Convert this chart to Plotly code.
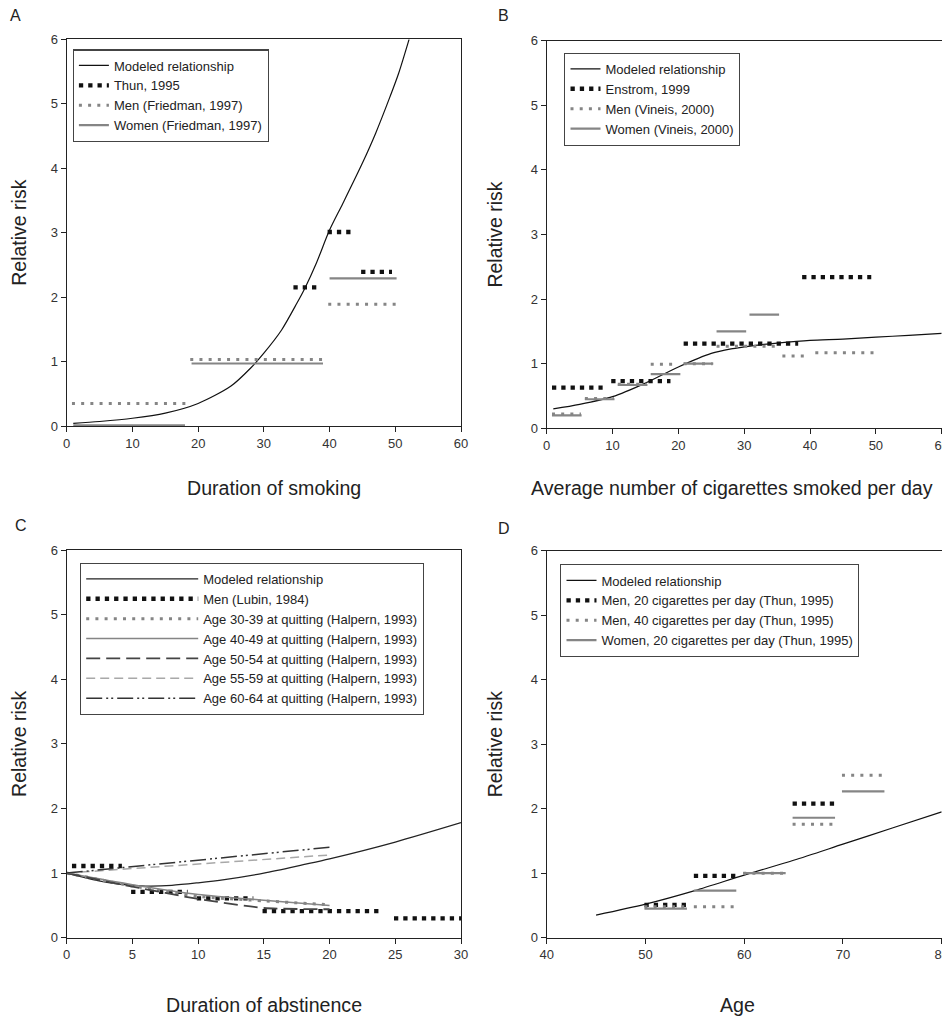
import plotly.graph_objects as go

# ---------------- Panel A: duration of smoking ----------------
a_model_x = [1, 5, 10, 15, 20, 25, 28, 30, 32.7, 35, 36.3, 38, 40, 42, 45, 47, 49.2, 50.5, 52.1]
a_model_y = [0.04, 0.07, 0.12, 0.2, 0.35, 0.62, 0.9, 1.13, 1.49, 1.9, 2.15, 2.53, 3.04, 3.45, 4.08, 4.54, 5.11, 5.47, 6.0]
a_thun_start = [34.5, 39.7, 44.8]
a_thun_end = [38.2, 43.2, 49.5]
a_thun_rr = [2.15, 3.01, 2.39]
a_men_start = [0.8, 18.8, 39.8]
a_men_end = [18.2, 39.2, 50.2]
a_men_rr = [0.35, 1.03, 1.89]
a_women_start = [1, 19, 40]
a_women_end = [18, 39, 50.2]
a_women_rr = [0.01, 0.97, 2.29]

# ---------------- Panel B: cigarettes per day ----------------
b_model_x = [1, 5, 10, 15, 20, 25, 28, 30, 33, 35, 40, 45, 50, 55, 60]
b_model_y = [0.3, 0.37, 0.49, 0.7, 0.95, 1.16, 1.23, 1.26, 1.3, 1.32, 1.36, 1.38, 1.41, 1.44, 1.47]
b_enst_start = [0.8, 9.8, 20.8, 38.8]
b_enst_end = [8.5, 18.8, 38.2, 49.3]
b_enst_rr = [0.63, 0.73, 1.31, 2.34]
b_men_start = [0.8, 5.8, 10.8, 15.8, 20.8, 25.8, 35.8, 40.8]
b_men_end = [5.2, 10.2, 15.2, 19.2, 25.2, 35.2, 39.2, 50.2]
b_men_rr = [0.22, 0.46, 0.68, 0.99, 1.0, 1.27, 1.12, 1.17]
b_women_start = [0.8, 5.8, 10.8, 15.8, 20.8, 25.8, 30.8]
b_women_end = [5.3, 10.3, 15.3, 20.3, 25.3, 30.3, 35.3]
b_women_rr = [0.2, 0.45, 0.67, 0.84, 1.0, 1.5, 1.76]

# ---------------- Panel C: duration of abstinence ----------------
c_model_x = [0, 2, 4, 6, 8, 10, 12, 15, 18, 20, 25, 30]
c_model_y = [1.0, 0.9, 0.83, 0.8, 0.81, 0.85, 0.9, 1.0, 1.13, 1.22, 1.48, 1.78]
c_lubin_start = [0.4, 4.9, 9.9, 14.9, 24.9]
c_lubin_end = [4.2, 9.2, 14.2, 24.0, 30.0]
c_lubin_rr = [1.11, 0.71, 0.61, 0.41, 0.3]
c_halp_x = [0, 5, 10, 15, 20]
c_age3039 = [1.0, 0.8, 0.64, 0.57, 0.51]
c_age4049 = [1.0, 0.82, 0.67, 0.58, 0.5]
c_age5054 = [1.0, 0.79, 0.6, 0.46, 0.44]
c_age5559 = [1.0, 1.07, 1.14, 1.21, 1.28]
c_age6064 = [1.0, 1.1, 1.2, 1.3, 1.4]

# ---------------- Panel D: age ----------------
d_model_x = [45, 50, 55, 60, 65, 70, 75, 80]
d_model_y = [0.35, 0.52, 0.73, 0.97, 1.2, 1.45, 1.7, 1.95]
d_start = [49.9, 54.9, 59.9, 64.9, 69.9]
d_end = [54.2, 59.2, 64.2, 69.2, 74.2]
d_men20_rr = [0.51, 0.96, None, 2.08, None]
d_men40_rr = [0.48, 0.48, 1.0, 1.76, 2.52]
d_women20_rr = [0.45, 0.73, 1.0, 1.86, 2.27]


def steps(starts, ends, vals):
    xs, ys = [], []
    for s, e, v in zip(starts, ends, vals):
        if v is None:
            continue
        xs += [s, e, None]
        ys += [v, v, None]
    return xs, ys


FONT = "Arial, 'Liberation Sans', sans-serif"
BLACK = "#111111"
GRAY = "#858585"
LIGHT = "#a8a8a8"
BLACKDOT = dict(color=BLACK, width=4.3, dash="4.3px,5px")
GRAYDOT = dict(color=GRAY, width=3, dash="3px,6.2px")
WOMEN = dict(color=GRAY, width=2.2)
MODEL = dict(color=BLACK, width=1.2, shape="spline", smoothing=0.8)

fig = go.Figure()


def add(xs, ys, name, line, xa, ya, legend):
    fig.add_trace(go.Scatter(x=xs, y=ys, mode="lines", name=name, line=line,
                             connectgaps=False, xaxis=xa, yaxis=ya, legend=legend))


# A
add(a_model_x, a_model_y, "Modeled relationship", MODEL, "x", "y", "legend")
add(*steps(a_thun_start, a_thun_end, a_thun_rr), "Thun, 1995", BLACKDOT, "x", "y", "legend")
add(*steps(a_men_start, a_men_end, a_men_rr), "Men (Friedman, 1997)", GRAYDOT, "x", "y", "legend")
add(*steps(a_women_start, a_women_end, a_women_rr), "Women (Friedman, 1997)", WOMEN, "x", "y", "legend")

# B
add(b_model_x, b_model_y, "Modeled relationship", MODEL, "x2", "y2", "legend2")
add(*steps(b_enst_start, b_enst_end, b_enst_rr), "Enstrom, 1999", BLACKDOT, "x2", "y2", "legend2")
add(*steps(b_men_start, b_men_end, b_men_rr), "Men (Vineis, 2000)", GRAYDOT, "x2", "y2", "legend2")
add(*steps(b_women_start, b_women_end, b_women_rr), "Women (Vineis, 2000)", WOMEN, "x2", "y2", "legend2")

# C
add(c_model_x, c_model_y, "Modeled relationship",
    dict(color="#222222", width=1.2, shape="spline", smoothing=0.8), "x3", "y3", "legend3")
add(*steps(c_lubin_start, c_lubin_end, c_lubin_rr), "Men (Lubin, 1984)", BLACKDOT, "x3", "y3", "legend3")
add(c_halp_x, c_age3039, "Age 30-39 at quitting (Halpern, 1993)",
    dict(GRAYDOT, shape="spline", smoothing=0.6), "x3", "y3", "legend3")
add(c_halp_x, c_age4049, "Age 40-49 at quitting (Halpern, 1993)",
    dict(color=GRAY, width=1.5, shape="spline", smoothing=0.6), "x3", "y3", "legend3")
add(c_halp_x, c_age5054, "Age 50-54 at quitting (Halpern, 1993)",
    dict(color="#444444", width=1.8, dash="14px,6px", shape="spline", smoothing=0.6), "x3", "y3", "legend3")
add(c_halp_x, c_age5559, "Age 55-59 at quitting (Halpern, 1993)",
    dict(color=LIGHT, width=1.5, dash="9px,5px"), "x3", "y3", "legend3")
add(c_halp_x, c_age6064, "Age 60-64 at quitting (Halpern, 1993)",
    dict(color="#333333", width=1.5, dash="16px,4px,2px,3px,2px,4px"), "x3", "y3", "legend3")

# D
add(d_model_x, d_model_y, "Modeled relationship", MODEL, "x4", "y4", "legend4")
add(*steps(d_start, d_end, d_men20_rr), "Men, 20 cigarettes per day (Thun, 1995)", BLACKDOT, "x4", "y4", "legend4")
add(*steps(d_start, d_end, d_men40_rr), "Men, 40 cigarettes per day (Thun, 1995)", GRAYDOT, "x4", "y4", "legend4")
add(*steps(d_start, d_end, d_women20_rr), "Women, 20 cigarettes per day (Thun, 1995)", WOMEN, "x4", "y4", "legend4")

# The page body has an 8px margin: figure is sized so it fits the 950x1017 window.
OFF = 8
W, H = 950 - OFF, 1017 - OFF


def px(x):
    return (x - OFF) / W


def py(y):
    return 1 - (y - OFF) / H


dom = {
    "A": ([px(66.7), px(461)], [py(426), py(39.3)]),
    "B": ([px(546.7), px(941.7)], [py(428.3), py(40.7)]),
    "C": ([px(66.7), px(461)], [py(937.7), py(550)]),
    "D": ([px(546.7), px(941.7)], [py(937.7), py(550.7)]),
}

axis_common = dict(showline=True, linecolor="#222222", linewidth=1.2, mirror=True,
                   ticks="outside", ticklen=5, tickcolor="#222222", showgrid=False,
                   zeroline=False, automargin=False,
                   tickfont=dict(family=FONT, size=13, color="#333333"))

xranges = {"A": [0, 60], "B": [0, 60], "C": [0, 30], "D": [40, 80]}
xdticks = {"A": 10, "B": 10, "C": 5, "D": 10}

layout = dict(width=W, height=H, margin=dict(l=0, r=0, t=0, b=0, autoexpand=False),
              paper_bgcolor="white", plot_bgcolor="white",
              font=dict(family=FONT, color="#222222"))
for i, p in enumerate(["A", "B", "C", "D"]):
    sfx = "" if i == 0 else str(i + 1)
    xd, yd = dom[p]
    layout["xaxis" + sfx] = dict(axis_common, domain=xd, range=xranges[p], dtick=xdticks[p],
                                 anchor="y" + sfx)
    layout["yaxis" + sfx] = dict(axis_common, domain=yd, range=[0, 6], dtick=1,
                                 anchor="x" + sfx,
                                 title=dict(text="Relative risk", standoff=22,
                                            font=dict(family=FONT, size=19.5, color="#222222")))

leg_common = dict(bordercolor="#444444", borderwidth=1.2, bgcolor="white",
                  font=dict(family=FONT, size=13, color="#222222"),
                  xanchor="left", yanchor="top", tracegroupgap=0)
layout["legend"] = dict(leg_common, x=px(72.7), y=py(49.3))
layout["legend2"] = dict(leg_common, x=px(564.3), y=py(52.7))
layout["legend3"] = dict(leg_common, x=px(80), y=py(562.7), itemwidth=112)
layout["legend4"] = dict(leg_common, x=px(560.3), y=py(564.3))

# x-axis titles placed where the reference shows them
xtitles = [("Duration of smoking", 274, 488), ("Average number of cigarettes smoked per day", 732, 488),
           ("Duration of abstinence", 264, 1005), ("Age", 737, 1005)]
letters = [("A", 15, 16), ("B", 503, 16), ("C", 21, 525), ("D", 504, 528)]
ann = [dict(text=t, x=px(x), y=py(y), xref="paper", yref="paper", showarrow=False,
            xanchor="center", yanchor="middle",
            font=dict(family=FONT, size=19.6, color="#222222"))
       for t, x, y in xtitles]
ann += [dict(text=t, x=px(x), y=py(y), xref="paper", yref="paper", showarrow=False,
             xanchor="center", yanchor="middle",
             font=dict(family=FONT, size=16, color="#222222"))
        for t, x, y in letters]
layout["annotations"] = ann

fig.update_layout(**layout)
fig.write_html("out.html")
